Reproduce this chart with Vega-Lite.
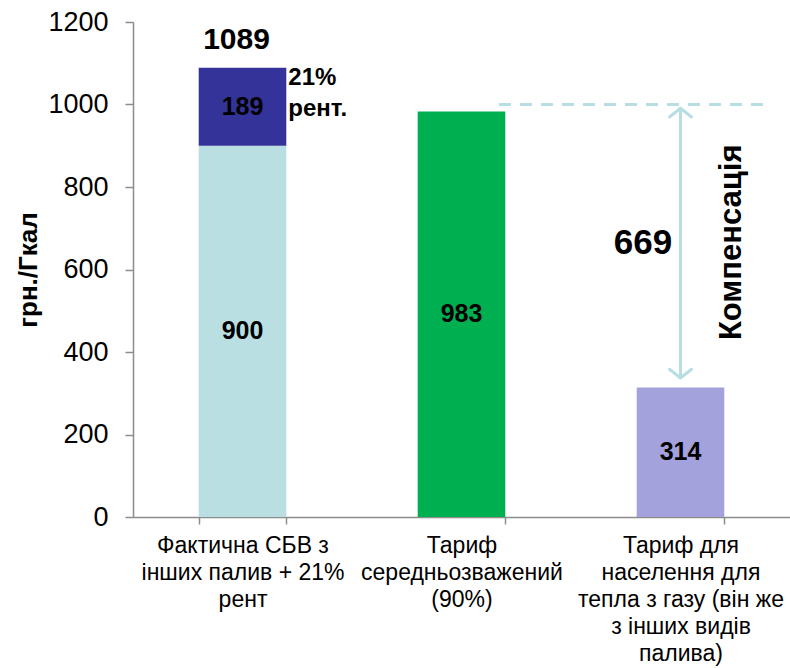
{
  "$schema": "https://vega.github.io/schema/vega-lite/v6.json",
  "autosize": "none",
  "width": 657,
  "height": 495,
  "padding": {"left": 133, "top": 22, "right": 0, "bottom": 151},
  "background": "white",
  "config": {
    "view": {"stroke": null},
    "font": "Liberation Sans",
    "scale": {"bandPaddingInner": 0.6, "bandPaddingOuter": 0.3},
    "axis": {"grid": false, "domainColor": "#8c8c8c", "tickColor": "#8c8c8c", "labelColor": "#000000", "labelFont": "Liberation Sans", "titleFont": "Liberation Sans"}
  },
  "datasets": {
    "bars": [
      {"cat": "Фактична СБВ з|інших палив + 21%|рент", "part": "СБВ", "value": 900, "ord": 1},
      {"cat": "Фактична СБВ з|інших палив + 21%|рент", "part": "рента", "value": 189, "ord": 2},
      {"cat": "Тариф|середньозважений|(90%)", "part": "середньозважений", "value": 983, "ord": 1},
      {"cat": "Тариф для|населення для|тепла з газу (він же|з інших видів|палива)", "part": "населення", "value": 314, "ord": 1}
    ],
    "totals": [
      {"cat": "Фактична СБВ з|інших палив + 21%|рент", "total": 1089, "note": "21%\nрент."}
    ],
    "dash": [{"x0": 1.671, "x1": 2.909, "level": 1000}],
    "arrow": [{"x": 2.5, "top": 991, "bottom": 337}],
    "heads": [{"x": 2.5, "y": 991, "dir": "up"}, {"x": 2.5, "y": 337, "dir": "down"}],
    "notes": [
      {"x": 2.329, "y": 664, "label": "669", "kind": "value"},
      {"x": 2.735, "y": 666, "label": "Компенсація", "kind": "title"}
    ]
  },
  "resolve": {"scale": {"x": "independent"}, "axis": {"x": "independent"}},
  "layer": [
    {
      "layer": [
        {
          "data": {"name": "bars"},
          "mark": {"type": "bar"},
          "encoding": {
            "x": {
              "field": "cat", "type": "nominal", "sort": null,
              "scale": {"domain": ["Фактична СБВ з|інших палив + 21%|рент", "Тариф|середньозважений|(90%)", "Тариф для|населення для|тепла з газу (він же|з інших видів|палива)"]},
              "axis": {"title": null, "labelAngle": 0, "labelExpr": "split(datum.label, '|')", "labelFontSize": 23, "labelLineHeight": 27, "labelPadding": 10, "tickBand": "extent", "tickSize": 7, "labelLimit": 300, "domainWidth": 1.5, "tickWidth": 1.5}
            },
            "y": {
              "field": "value", "type": "quantitative", "stack": "zero", "title": "грн./Гкал",
              "scale": {"domain": [0, 1200]},
              "axis": {"values": [0, 200, 400, 600, 800, 1000, 1200], "format": "d", "labelFontSize": 27, "labelPadding": 17, "tickSize": 8, "titleFontSize": 26, "titleFontWeight": "bold", "titlePadding": 6, "domainWidth": 1.5, "tickWidth": 1.5}
            },
            "color": {
              "field": "part", "type": "nominal", "legend": null,
              "scale": {"domain": ["СБВ", "рента", "середньозважений", "населення"], "range": ["#badfe2", "#333399", "#00b050", "#a4a2dc"]}
            },
            "order": {"field": "ord", "type": "quantitative"}
          }
        },
        {
          "data": {"name": "bars"},
          "transform": [
            {"stack": "value", "groupby": ["cat"], "sort": [{"field": "ord"}], "as": ["v0", "v1"]},
            {"calculate": "(datum.v0 + datum.v1) / 2", "as": "mid"}
          ],
          "mark": {"type": "text", "fontSize": 25, "fontWeight": "bold", "color": "#000000", "baseline": "middle"},
          "encoding": {
            "x": {"field": "cat", "type": "nominal", "sort": null},
            "y": {"field": "mid", "type": "quantitative", "title": "грн./Гкал"},
            "text": {"field": "value", "type": "quantitative"}
          }
        },
        {
          "data": {"name": "totals"},
          "mark": {"type": "text", "fontSize": 30, "fontWeight": "bold", "color": "#000000", "baseline": "middle", "dy": -28, "dx": -6},
          "encoding": {
            "x": {"field": "cat", "type": "nominal", "sort": null},
            "y": {"field": "total", "type": "quantitative", "title": "грн./Гкал"},
            "text": {"field": "total", "type": "quantitative"}
          }
        },
        {
          "data": {"name": "totals"},
          "mark": {"type": "text", "fontSize": 24, "fontWeight": "bold", "color": "#000000", "align": "left", "baseline": "top", "lineBreak": "\n", "lineHeight": 31, "dx": 2, "dy": -2},
          "encoding": {
            "x": {"field": "cat", "type": "nominal", "sort": null, "bandPosition": 1},
            "y": {"field": "total", "type": "quantitative", "title": "грн./Гкал"},
            "text": {"field": "note", "type": "nominal"}
          }
        }
      ]
    },
    {
      "layer": [
        {
          "data": {"name": "dash"},
          "mark": {"type": "rule", "color": "#b7dfe2", "strokeWidth": 3, "strokeDash": [12, 9]},
          "encoding": {
            "x": {"field": "x0", "type": "quantitative", "scale": {"domain": [0, 3], "nice": false, "zero": false}, "axis": null},
            "x2": {"field": "x1"},
            "y": {"field": "level", "type": "quantitative", "title": "грн./Гкал"}
          }
        },
        {
          "data": {"name": "arrow"},
          "mark": {"type": "rule", "color": "#b7dfe2", "strokeWidth": 3},
          "encoding": {
            "x": {"field": "x", "type": "quantitative", "scale": {"domain": [0, 3], "nice": false, "zero": false}, "axis": null},
            "y": {"field": "top", "type": "quantitative", "title": "грн./Гкал"},
            "y2": {"field": "bottom"}
          }
        },
        {
          "data": {"name": "heads"},
          "mark": {"type": "point", "filled": false, "color": "#b7dfe2", "strokeWidth": 3, "size": 480, "opacity": 1, "strokeCap": "round", "strokeJoin": "round"},
          "encoding": {
            "x": {"field": "x", "type": "quantitative", "scale": {"domain": [0, 3], "nice": false, "zero": false}, "axis": null},
            "y": {"field": "y", "type": "quantitative", "title": "грн./Гкал"},
            "shape": {"field": "dir", "type": "nominal", "legend": null, "scale": {"domain": ["up", "down"], "range": ["M -1 0.8 L 0 0 L 1 0.8", "M -1 -0.8 L 0 0 L 1 -0.8"]}}
          }
        },
        {
          "data": {"name": "notes"},
          "transform": [{"filter": "datum.kind === 'value'"}],
          "mark": {"type": "text", "fontSize": 35, "fontWeight": "bold", "color": "#000000", "baseline": "middle", "align": "center"},
          "encoding": {
            "x": {"field": "x", "type": "quantitative", "scale": {"domain": [0, 3], "nice": false, "zero": false}, "axis": null},
            "y": {"field": "y", "type": "quantitative", "title": "грн./Гкал"},
            "text": {"field": "label", "type": "nominal"}
          }
        },
        {
          "data": {"name": "notes"},
          "transform": [{"filter": "datum.kind === 'title'"}],
          "mark": {"type": "text", "fontSize": 31, "fontWeight": "bold", "color": "#000000", "baseline": "middle", "align": "center", "angle": 270},
          "encoding": {
            "x": {"field": "x", "type": "quantitative", "scale": {"domain": [0, 3], "nice": false, "zero": false}, "axis": null},
            "y": {"field": "y", "type": "quantitative", "title": "грн./Гкал"},
            "text": {"field": "label", "type": "nominal"}
          }
        }
      ]
    }
  ]
}
